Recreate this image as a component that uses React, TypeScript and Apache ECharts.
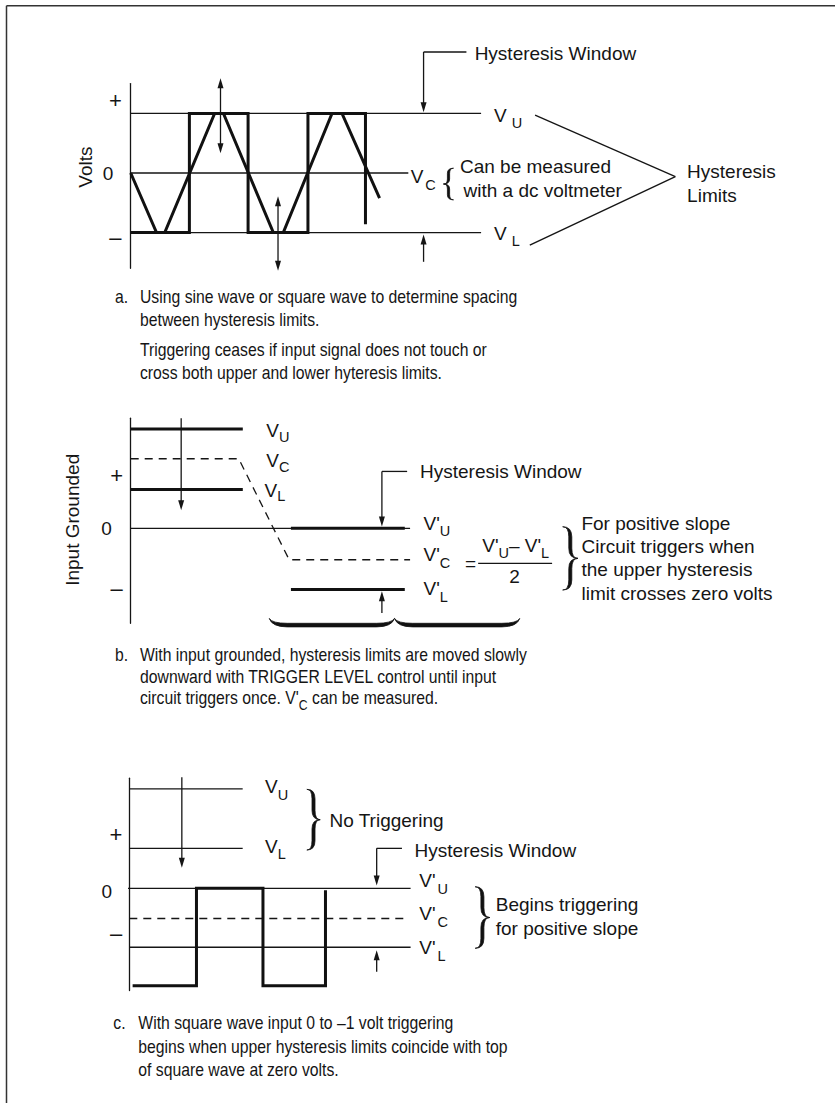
import React, { useEffect, useRef } from 'react';
import * as echarts from 'echarts';

const FONT = '"Liberation Sans", Arial, Helvetica, sans-serif';
const INK = '#151515';

// ---------------- Panel a (x: half periods, y: volts) ----------------
const aSquareWave = [[0, -1], [1, -1], [1, 1], [2, 1], [2, -1], [3.02, -1], [3.02, 1], [4, 1], [4, -0.86]];
const aTriangleWave = [[0, 0], [0.44, -1], [0.58, -1], [1.43, 1], [1.58, 1], [2.43, -1], [2.6, -1], [3.43, 1], [3.6, 1], [4.24, -0.42]];
const aThinLines = [
  [[0, 1], [5.97, 1]],
  [[-0.27, 0], [4.73, 0]],
  [[0, -1], [5.97, -1]],
  [[4.99, 2.03], [5.72, 2.03]],
  [[6.89, 0.97], [9.28, -0.06]],
  [[6.8, -1.21], [9.28, -0.06]],
];
const aArrows = [[1.53, 0.33, 1.59, 2], [2.51, -0.39, -1.64, 2], [4.99, 2.03, 1.02, 1], [4.99, -1.49, -1.03, 1]];
const aBraces: any[] = [['v', 5.5, 5.33, 0.08, -0.45, 2.2]];
const aLabels = [
  { x: -0.26, y: 1.22, t: '+', align: 'center', size: 22 },
  { x: -0.385, y: 0, t: '0', align: 'center', size: 19 },
  { x: -0.26, y: -1.09, t: '–', align: 'center', size: 22 },
  { x: -0.77, y: 0.1, t: 'Volts', align: 'center', rot: true },
  { x: 5.86, y: 2.01, t: 'Hysteresis Window' },
  { x: 6.19, y: 0.97, t: 'V{g|U}' },
  { x: 4.77, y: -0.06, t: 'V{s|C}' },
  { x: 5.61, y: 0.11, t: 'Can be measured' },
  { x: 5.67, y: -0.29, t: 'with a dc voltmeter' },
  { x: 6.19, y: -1.01, t: 'V{g|L}' },
  { x: 9.48, y: 0.02, t: 'Hysteresis' },
  { x: 9.48, y: -0.37, t: 'Limits' },
];

// ---------------- Panel b ----------------
const bThickLines = [
  [[0, 1.64], [1.91, 1.64]],
  [[0, 0.64], [1.91, 0.64]],
  [[2.73, 0], [4.67, 0]],
  [[2.73, -1.01], [4.67, -1.01]],
];
const bDashedLines = [[[0, 1.15], [1.84, 1.15], [2.7, -0.52], [4.76, -0.52]]];
const bThinLines = [
  [[-0.27, 0], [4.76, 0]],
  [[4.28, 0.94], [4.71, 0.94]],
  [[5.92, -0.58], [7.18, -0.58]],
];
const bArrows = [[0.86, 1.82, 0.3, 1], [4.28, 0.94, 0.03, 1], [4.28, -1.4, -1.04, 1]];
const bBraces: any[] = [['v', 7.36, 7.62, 0.026, -1.02, 3], ['h', 2.36, 6.63, -1.49, -1.6, 3.6]];
const bLabels = [
  { x: -0.24, y: 0.88, t: '+', align: 'center', size: 22 },
  { x: -0.41, y: 0, t: '0', align: 'center', size: 19 },
  { x: -0.24, y: -0.99, t: '–', align: 'center', size: 22 },
  { x: -0.99, y: 0.14, t: 'Input Grounded', align: 'center', rot: true },
  { x: 2.31, y: 1.61, t: 'V{b|U}' },
  { x: 2.31, y: 1.12, t: 'V{b|C}' },
  { x: 2.28, y: 0.625, t: 'V{b|L}' },
  { x: 4.93, y: 0.94, t: 'Hysteresis Window' },
  { x: 4.99, y: 0.08, t: "V'{t|U}" },
  { x: 4.99, y: -0.44, t: "V'{t|C}" },
  { x: 4.99, y: -1.0, t: "V'{t|L}" },
  { x: 5.79, y: -0.58, t: '=', align: 'center' },
  { x: 6.56, y: -0.28, t: "V'{t|U}– V'{t|L}", align: 'center' },
  { x: 6.54, y: -0.8, t: '2', align: 'center' },
  { x: 7.68, y: 0.083, t: 'For positive slope' },
  { x: 7.68, y: -0.304, t: 'Circuit triggers when' },
  { x: 7.68, y: -0.689, t: 'the upper hysteresis' },
  { x: 7.68, y: -1.07, t: 'limit crosses zero volts' },
];

// ---------------- Panel c ----------------
const cSquareWave = [[0.05, -1], [1.01, -1], [1.01, 0], [2.01, 0], [2.01, -1], [2.95, -1], [2.95, -0.02]];
const cThinLines = [
  [[0, 1.02], [1.705, 1.02]],
  [[0, 0.41], [1.705, 0.41]],
  [[-0.215, 0], [4.23, 0]],
  [[0, -0.605], [4.23, -0.605]],
  [[3.72, 0.41], [4.1, 0.41]],
];
const cDashedLines = [[[0, -0.31], [4.15, -0.31]]];
const cArrows = [[0.79, 1.14, 0.21, 1], [3.72, 0.41, 0.03, 1], [3.72, -0.856, -0.635, 1]];
const cBraces: any[] = [['v', 2.67, 2.87, 1.016, 0.393, 3], ['v', 5.2, 5.42, 0.016, -0.616, 3]];
const cLabels = [
  { x: -0.2, y: 0.55, t: '+', align: 'center', size: 22 },
  { x: -0.34, y: -0.035, t: '0', align: 'center', size: 19 },
  { x: -0.2, y: -0.46, t: '–', align: 'center', size: 22 },
  { x: 2.04, y: 1.045, t: 'V{t|U}' },
  { x: 2.04, y: 0.43, t: 'V{t|L}' },
  { x: 3.01, y: 0.7, t: 'No Triggering' },
  { x: 4.29, y: 0.39, t: 'Hysteresis Window' },
  { x: 4.36, y: 0.08, t: "V'{s|U}" },
  { x: 4.36, y: -0.26, t: "V'{s|C}" },
  { x: 4.36, y: -0.61, t: "V'{s|L}" },
  { x: 5.51, y: -0.17, t: 'Begins triggering' },
  { x: 5.51, y: -0.41, t: 'for positive slope' },
];

// ---------------- Captions ----------------
const captionA = [
  'Using sine wave or square wave to determine spacing',
  'between hysteresis limits.',
  'Triggering ceases if input signal does not touch or',
  'cross both upper and lower hyteresis limits.',
];
const captionB = [
  'With input grounded, hysteresis limits are moved slowly',
  'downward with TRIGGER LEVEL control until input',
  "circuit triggers once. V'{c|C} can be measured.",
];
const captionC = [
  'With square wave input 0 to –1 volt triggering',
  'begins when upper hysteresis limits coincide with top',
  'of square wave at zero volts.',
];

// panel layout: pixel origin and pixel size of one unit
const PANELS = [
  { x0: 130.7, y0: 173, sx: 59, sy: 59.6, xMax: 12, yMin: -1.6, yMax: 1.5 },
  { x0: 130.7, y0: 528.3, sx: 59, sy: 60.5, xMax: 12, yMin: -1.57, yMax: 1.82 },
  { x0: 129.3, y0: 888.3, sx: 66.5, sy: 97.4, xMax: 10, yMin: -1.05, yMax: 1.13 },
];

const subStyle = (pt: number, gap: number) => ({ fontSize: 14.5, fontFamily: FONT, fill: INK, padding: [pt, 0, 0, gap] });
const RICH = {
  g: subStyle(16, 5),
  s: subStyle(16, 2),
  t: subStyle(16, 0),
  b: subStyle(12, 0),
};

function bracePath(b: any[], api: any) {
  const [kind, p, q, r, s, w] = b;
  const h = w / 2;
  if (kind === 'h') {
    const L = api.coord([p, r]);
    const R = api.coord([q, r]);
    const yB = api.coord([p, s])[1];
    const yE = L[1];
    const xL = L[0], xR = R[0], xM = (xL + xR) / 2;
    const k = 18;
    const t1 = yB - h, t2 = yB + h;
    return `M${xL},${yE} Q${xL + 3},${t1} ${xL + k},${t1} L${xM - k},${t1} Q${xM - 3},${t1} ${xM},${yE} ` +
      `Q${xM + 3},${t1} ${xM + k},${t1} L${xR - k},${t1} Q${xR - 3},${t1} ${xR},${yE} ` +
      `Q${xR - 3},${t2} ${xR - k},${t2} L${xM + k},${t2} Q${xM + 3},${t2} ${xM},${yE} ` +
      `Q${xM - 3},${t2} ${xM - k},${t2} L${xL + k},${t2} Q${xL + 3},${t2} ${xL},${yE} Z`;
  }
  const T = api.coord([p, r]);
  const B = api.coord([p, s]);
  const tip = api.coord([q, (r + s) / 2]);
  const xE = T[0], xT = tip[0], xS = (xE + xT) / 2, yT = T[1], yBt = B[1], yM = tip[1];
  const d = Math.sign(xT - xE);
  const k = Math.min(Math.abs(xT - xE) * 0.7, (yBt - yT) * 0.16);
  const a = xS - d * h, f = xS + d * h;
  return `M${xE},${yT} Q${a},${yT} ${a},${yT + k} L${a},${yM - k} Q${a},${yM} ${xT},${yM} ` +
    `Q${a},${yM} ${a},${yM + k} L${a},${yBt - k} Q${a},${yBt} ${xE},${yBt} ` +
    `Q${f},${yBt} ${f},${yBt - k} L${f},${yM + k} Q${f},${yM} ${xT},${yM} ` +
    `Q${f},${yM} ${f},${yM - k} L${f},${yT + k} Q${f},${yT} ${xE},${yT} Z`;
}

function panelSeries(i: number, spec: any) {
  const base = { xAxisIndex: i, yAxisIndex: i, silent: true, clip: false, symbol: 'none', animation: false };
  const out: any[] = [];
  (spec.thin || []).forEach((pts: number[][]) =>
    out.push({ type: 'line', ...base, data: pts, lineStyle: { color: INK, width: 1.3 } }));
  (spec.dashed || []).forEach((pts: number[][]) =>
    out.push({ type: 'line', ...base, data: pts, lineStyle: { color: INK, width: 1.3, type: [8, 6] } }));
  (spec.thick || []).forEach((pts: number[][]) =>
    out.push({ type: 'line', ...base, data: pts, lineStyle: { color: '#111', width: 3, join: 'miter', cap: 'butt' } }));
  const arrows = spec.arrows || [];
  out.push({
    type: 'custom', xAxisIndex: i, yAxisIndex: i, silent: true,
    data: arrows.map((a: number[]) => [a[0], a[1], a[2]]),
    encode: { x: 0, y: [1, 2] },
    renderItem: (params: any, api: any) => {
      const a = arrows[params.dataIndex];
      const p1 = api.coord([a[0], a[1]]);
      const p2 = api.coord([a[0], a[2]]);
      const dy = Math.sign(p2[1] - p1[1]);
      const L = 10, W = 3;
      const head = (tip: number[], dir: number) => ({
        type: 'polygon',
        shape: { points: [[tip[0], tip[1]], [tip[0] - W, tip[1] - dir * L], [tip[0] + W, tip[1] - dir * L]] },
        style: { fill: INK },
      });
      const children: any[] = [{
        type: 'line',
        shape: { x1: p1[0], y1: p1[1] + (a[3] === 2 ? dy * L * 0.8 : 0), x2: p2[0], y2: p2[1] - dy * L * 0.8 },
        style: { stroke: INK, lineWidth: 1.3 },
      }, head(p2, dy)];
      if (a[3] === 2) children.push(head(p1, -dy));
      return { type: 'group', children };
    },
  });
  const braces = spec.braces || [];
  out.push({
    type: 'custom', xAxisIndex: i, yAxisIndex: i, silent: true,
    data: braces.map((b: any[]) => [b[1], b[3]]),
    encode: { x: 0, y: 1 },
    renderItem: (params: any, api: any) => ({
      type: 'path',
      shape: { pathData: bracePath(braces[params.dataIndex], api) },
      style: { fill: '#111', stroke: '#111', lineWidth: 0.8, lineJoin: 'round' },
    }),
  });
  const labels = spec.labels || [];
  out.push({
    type: 'custom', xAxisIndex: i, yAxisIndex: i, silent: true,
    data: labels.map((l: any) => [l.x, l.y]),
    encode: { x: 0, y: 1 },
    renderItem: (params: any, api: any) => {
      const l = labels[params.dataIndex];
      const p = api.coord([l.x, l.y]);
      return {
        type: 'text', x: p[0], y: p[1], rotation: l.rot ? Math.PI / 2 : 0,
        style: {
          legacy: false, text: l.t, fill: INK, fontSize: l.size || 19, fontFamily: FONT,
          align: l.align || 'left', verticalAlign: 'middle', rich: RICH,
        },
      };
    },
  });
  return out;
}

function captionElements(tag: string, lines: string[], xTag: number, xText: number, yStart: number, steps: number[]) {
  const mk = (text: string, x: number, y: number) => ({
    type: 'text', x, y, scaleX: 0.875, silent: true,
    style: {
      legacy: false, text, fill: INK, fontSize: 18, fontFamily: FONT, align: 'left', verticalAlign: 'middle',
      rich: { c: { fontSize: 14, fontFamily: FONT, fill: INK, padding: [14, 0, 0, 0] } },
    },
  });
  const els: any[] = [mk(tag, xTag, yStart)];
  lines.forEach((t, k) => els.push(mk(t, xText, yStart + steps[k])));
  return els;
}

export default function App() {
  const ref = useRef<HTMLDivElement>(null);
  useEffect(() => {
    if (!ref.current) return;
    const chart = echarts.init(ref.current, null, { renderer: 'svg' });
    const series = [
      ...panelSeries(0, { thin: aThinLines, thick: [aSquareWave, aTriangleWave], arrows: aArrows, braces: aBraces, labels: aLabels }),
      ...panelSeries(1, { thin: bThinLines, dashed: bDashedLines, thick: bThickLines, arrows: bArrows, braces: bBraces, labels: bLabels }),
      ...panelSeries(2, { thin: cThinLines, dashed: cDashedLines, thick: [cSquareWave], arrows: cArrows, braces: cBraces, labels: cLabels }),
    ];
    const option: any = {
      animation: false,
      backgroundColor: '#ffffff',
      grid: PANELS.map((P) => ({
        left: P.x0, top: P.y0 - P.yMax * P.sy, width: P.xMax * P.sx, height: (P.yMax - P.yMin) * P.sy, containLabel: false,
      })),
      xAxis: PANELS.map((P, i) => ({ type: 'value', gridIndex: i, min: 0, max: P.xMax, show: false })),
      yAxis: PANELS.map((P, i) => ({
        type: 'value', gridIndex: i, min: P.yMin, max: P.yMax,
        axisLine: { show: true, onZero: false, lineStyle: { color: INK, width: 1.3 } },
        axisTick: { show: false }, axisLabel: { show: false }, splitLine: { show: false },
      })),
      series,
      graphic: {
        elements: [
          { type: 'line', silent: true, shape: { x1: 6.5, y1: 5.7, x2: 835, y2: 5.7 }, style: { stroke: '#333', lineWidth: 1.5 } },
          { type: 'line', silent: true, shape: { x1: 6.5, y1: 5.7, x2: 6.5, y2: 1103 }, style: { stroke: '#333', lineWidth: 1.5 } },
          ...captionElements('a.', captionA, 115, 140, 296.7, [0, 23.3, 53.3, 76.6]),
          ...captionElements('b.', captionB, 115, 140, 655, [0, 21.7, 43.4]),
          ...captionElements('c.', captionC, 113.3, 138.3, 1023.3, [0, 23.4, 46.7]),
        ],
      },
    };
    chart.setOption(option);
    return () => chart.dispose();
  }, []);
  return (
    <div
      ref={ref}
      style={{ position: 'absolute', left: 0, top: 0, width: 835, height: 1103, background: '#fff' }}
    />
  );
}
